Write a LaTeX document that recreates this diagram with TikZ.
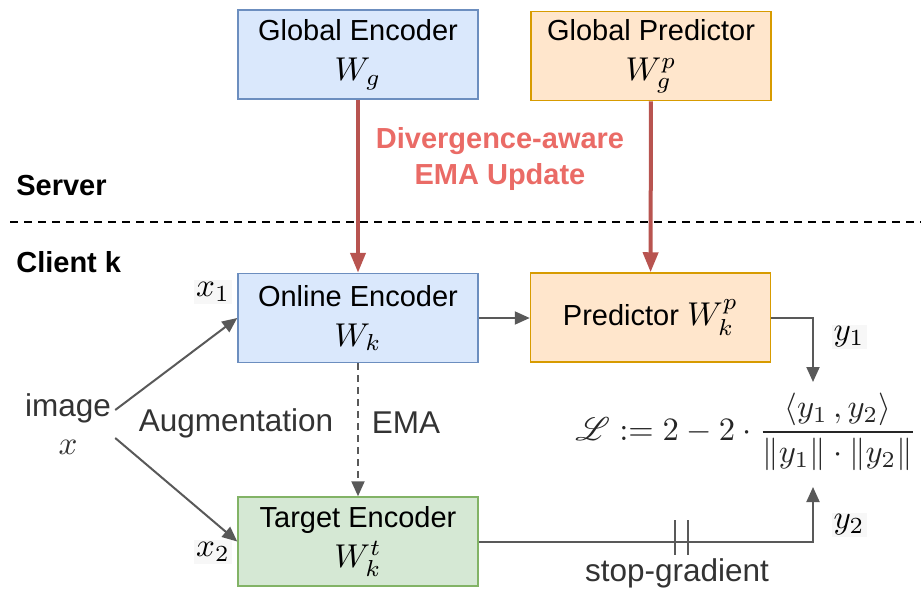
\documentclass[tikz,border=0pt]{standalone}
\usepackage{amsmath}
\usepackage{mathrsfs}
\usepackage{graphicx}
\usepackage[no-math]{fontspec}
\setmainfont{Liberation Sans}
\usetikzlibrary{arrows.meta,positioning}

\definecolor{encfill}{HTML}{DAE8FC}
\definecolor{encline}{HTML}{6C8EBF}
\definecolor{predfill}{HTML}{FFE6CC}
\definecolor{predline}{HTML}{D79B00}
\definecolor{tgtfill}{HTML}{D5E8D4}
\definecolor{tgtline}{HTML}{82B366}
\definecolor{updline}{HTML}{B85450}
\definecolor{updtext}{HTML}{EA6B66}
\definecolor{flowline}{HTML}{595959}
\definecolor{ink}{HTML}{333333}

% math is set at 10pt and blown up, so the strokes stay heavy
\newcommand{\wmath}[1]{\scalebox{3.3}{\fontsize{10}{12}\selectfont$#1$}}

\begin{document}
\begin{tikzpicture}[x=1pt,y=-1pt,->,>={Triangle[length=15pt,width=13pt]},
        line width=2pt,draw=flowline,
        base font/.style={font=\fontsize{29}{40}\selectfont},
        block/.style={base font,draw,line width=1.5pt,minimum width=240pt,
            minimum height=89pt,inner sep=0pt,align=center,text=black},
        enc/.style={block,fill=encfill,draw=encline},
        pred/.style={block,fill=predfill,draw=predline},
        tgt/.style={block,fill=tgtfill,draw=tgtline},
        plain/.style={font=\fontsize{31.5}{38}\selectfont,text=ink},
        side/.style={font=\fontsize{29}{38}\selectfont\bfseries,text=black,anchor=west},
        var label/.style={fill=black!3,inner sep=2pt,text=black},
        update/.style={draw=updline,line width=4pt,
            >={Triangle[length=20pt,width=15pt]}}]

    \useasboundingbox (0,0) rectangle (921,600);

    % Define vertices
    \node[enc] (genc) at (358,54.5) {Global Encoder\\\wmath{W_g}};
    \node[pred] (gpred) at (651,56) {Global Predictor\\\wmath{W^p_g}};
    \node[enc] (online) [below=173pt of genc] {Online Encoder\\\wmath{W_k}};
    \node[tgt] (target) [below=133pt of online] {Target Encoder\\\wmath{W^t_k}};
    \node[pred] (predk) at (650.5,317.5) {Predictor \wmath{W^p_k}};

    \node[plain,align=center] (img) at (68,424) {image\\\wmath{x}};
    \node[var label] (x1) at (213,292) {\wmath{x_1}};
    \node[var label] (x2) at (213,552) {\wmath{x_2}};
    \node[var label] (y1) at (849,337) {\wmath{y_1}};
    \node[var label] (y2) at (849,525) {\wmath{y_2}};

    \node[text=black!85] (loss) at (746,432) {\scalebox{3.26}{\fontsize{10}{12}\selectfont
        $\mathscr{L}:=2-2\cdot\dfrac{\langle y_1\,,y_2\rangle}{\|y_1\|\cdot\|y_2\|}$}};
    \coordinate (y1in) at (813,382);
    \coordinate (y2in) at (813,487);

    \node[side] (server) at (12,186) {Server};
    \node[side] (client) at (12,262) {Client k};
    \node[font=\fontsize{29}{36}\selectfont\bfseries,text=updtext,align=center]
        (divema) at (500,159) {Divergence-aware\\EMA Update};

    \node[plain] (aug) at (236,423) {Augmentation};
    \node[plain] (ema) at (406,423) {EMA};
    \node[plain] (stopg) at (677,573) {stop-gradient};

    % Server / client split
    \draw[-,black,line width=1.8pt,dash pattern=on 8pt off 6pt] (10,222) -- (921,222);

    % Draw edges
    \draw[update] (genc) -- (online);
    \draw[update] (gpred) -- (predk);
    \draw ([yshift=14pt]img.east) -- (online.west);
    \draw ([yshift=-14pt]img.east) -- (target.west);
    \draw[dash pattern=on 7pt off 5pt] (online) -- (target);
    \draw (online.east) -- (online.east -| predk.west);
    \draw (predk.east) -| (y1in);
    \draw (target.east) -| (y2in);

    % stop-gradient marks
    \draw[-] (675,520) -- (675,555);
    \draw[-] (688,520) -- (688,555);

\end{tikzpicture}
\end{document}
